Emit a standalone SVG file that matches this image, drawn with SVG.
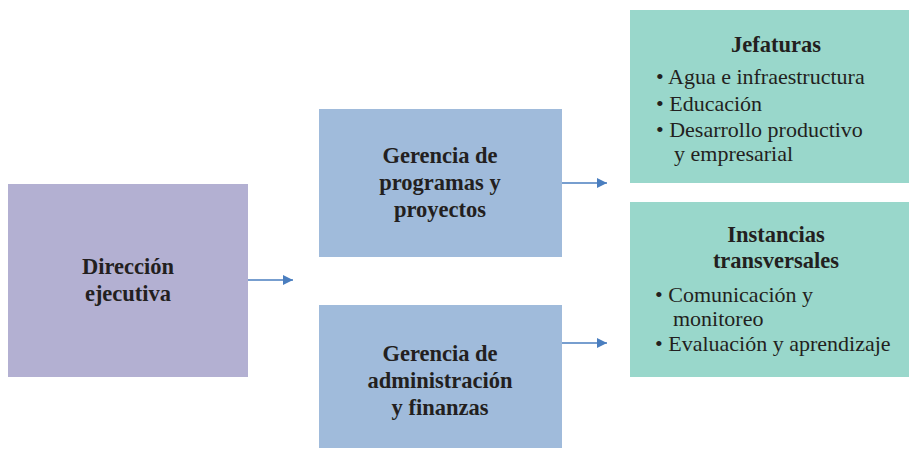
<svg xmlns="http://www.w3.org/2000/svg" width="909" height="449" viewBox="0 0 909 449">
<defs>
<style>
.h{font-family:'Liberation Serif','DejaVu Serif','Times New Roman',serif;font-weight:bold;font-size:22.5px;fill:#231f20;text-anchor:middle}
.t{font-family:'Liberation Serif','DejaVu Serif','Times New Roman',serif;font-size:22px;fill:#231f20}
.c{stroke:#4a7ebf;stroke-width:1.5;fill:none}
</style>
<marker id="ah" viewBox="0 0 10 10" refX="10" refY="5" markerWidth="10" markerHeight="10" markerUnits="userSpaceOnUse" orient="auto"><path d="M0,0 L10,5 L0,10 z" fill="#4a7ebf"/></marker>
</defs>
<rect width="909" height="449" fill="#fff"/>
<g id="direccion">
<rect x="8" y="184" width="240" height="193" fill="#b3b0d2"/>
<text class="h" x="128" y="274">Dirección</text>
<text class="h" x="128" y="301">ejecutiva</text>
</g>
<g id="gerencia-programas">
<rect x="319" y="109" width="243" height="148" fill="#a0bbdb"/>
<text class="h" x="440" y="163">Gerencia de</text>
<text class="h" x="440" y="190">programas y</text>
<text class="h" x="440" y="217">proyectos</text>
</g>
<g id="gerencia-administracion">
<rect x="319" y="305" width="243" height="143" fill="#a0bbdb"/>
<text class="h" x="440" y="361">Gerencia de</text>
<text class="h" x="440" y="388">administración</text>
<text class="h" x="440" y="415">y finanzas</text>
</g>
<g id="jefaturas">
<rect x="630" y="10" width="279" height="173" fill="#99d7cb"/>
<text class="h" x="776" y="52">Jefaturas</text>
<text class="t" x="656" y="84">• Agua e infraestructura</text>
<text class="t" x="656" y="111">• Educación</text>
<text class="t" x="656" y="137">• Desarrollo productivo</text>
<text class="t" x="674" y="161">y empresarial</text>
</g>
<g id="instancias">
<rect x="630" y="202" width="279" height="175" fill="#99d7cb"/>
<text class="h" x="776" y="242">Instancias</text>
<text class="h" x="776" y="268">transversales</text>
<text class="t" x="655" y="302">• Comunicación y</text>
<text class="t" x="673" y="326">monitoreo</text>
<text class="t" x="655" y="351">• Evaluación y aprendizaje</text>
</g>
<g id="connectors">
<line class="c" x1="248" y1="280" x2="293" y2="280" marker-end="url(#ah)"/>
<line class="c" x1="562" y1="183" x2="607" y2="183" marker-end="url(#ah)"/>
<line class="c" x1="562" y1="343" x2="607" y2="343" marker-end="url(#ah)"/>
</g>
</svg>
